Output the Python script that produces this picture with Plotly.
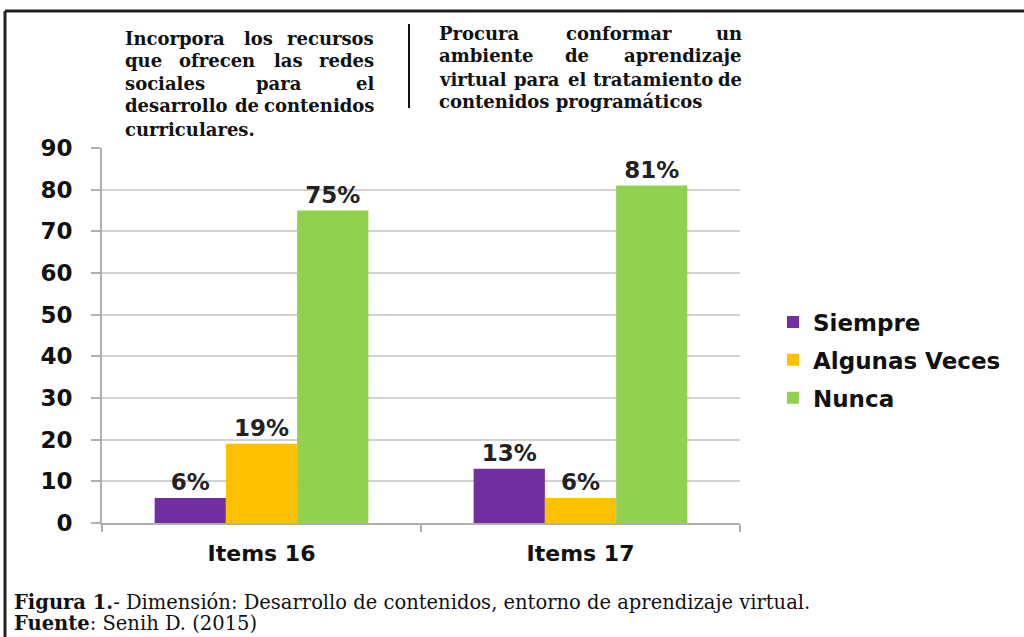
import plotly.graph_objects as go

categories = ["Items 16", "Items 17"]
series_names = ["Siempre", "Algunas Veces", "Nunca"]
siempre = [6, 13]
algunas = [19, 6]
nunca = [75, 81]
colors = ["#7030A0", "#FFC000", "#92D050"]
y_ticks = [0, 10, 20, 30, 40, 50, 60, 70, 80, 90]

W, H = 1024, 637
L, R, T, B = 102, 740, 148, 523  # plot area in pixels


def px(x):
    return (x - L) / (R - L)


def py(y):
    return (B - y) / (B - T)


fig = go.Figure()
for name, vals, col in zip(series_names, [siempre, algunas, nunca], colors):
    fig.add_trace(go.Bar(
        x=categories, y=vals, name=name, legendgroup=name,
        marker=dict(color=col, line=dict(width=0)),
        text=[f"{v}%" for v in vals], textposition="outside",
        textfont=dict(family="DejaVu Sans", size=23, color="#222222", weight="bold"),
        constraintext="none", cliponaxis=False,
    ))

fig.update_layout(
    width=W, height=H,
    margin=dict(l=L, r=W - R, t=T, b=H - B),
    paper_bgcolor="white", plot_bgcolor="white",
    barmode="group", bargap=0.33, bargroupgap=0,
    showlegend=True,
    legend=dict(x=px(773), y=py(360), xanchor="left", yanchor="middle",
                font=dict(family="DejaVu Sans", size=23, color="#111111", weight="bold"),
                tracegroupgap=5, bgcolor="rgba(0,0,0,0)"),
    font=dict(family="DejaVu Sans", color="#111111"),
)
fig.update_yaxes(range=[0, 90], tickvals=y_ticks, showgrid=True,
                 gridcolor="#d2d2d2", gridwidth=2,
                 showline=True, linecolor="#b0b0b0", linewidth=2,
                 ticks="outside", ticklen=9, tickcolor="#b0b0b0", tickwidth=2,
                 ticklabelstandoff=14,
                 tickfont=dict(family="DejaVu Sans", size=23, color="#111111", weight="bold"),
                 zeroline=False)
fig.update_xaxes(showline=True, linecolor="#b0b0b0", linewidth=2,
                 ticks="outside", tickson="boundaries", ticklen=7, tickcolor="#b0b0b0", tickwidth=2,
                 ticklabelstandoff=10,
                 tickfont=dict(family="DejaVu Sans", size=22, color="#111111", weight="bold"))

# frame (top and left edges)
fig.add_shape(type="line", xref="paper", yref="paper", x0=px(5), x1=px(1024), y0=py(11), y1=py(11),
              line=dict(color="#222222", width=3))
fig.add_shape(type="line", xref="paper", yref="paper", x0=px(5), x1=px(5), y0=py(11), y1=py(637),
              line=dict(color="#222222", width=3))
# vertical separator between the two item descriptions
fig.add_shape(type="line", xref="paper", yref="paper", x0=px(409), x1=px(409), y0=py(24), y1=py(108),
              line=dict(color="#111111", width=2))

SERIF_SIZE = 18
serif = dict(family="DejaVu Serif", size=SERIF_SIZE, color="#111111", weight="bold")

# approximate glyph advance widths (em, Times-Bold-like) used only to justify lines
ADV = {
    'a': .5, 'b': .556, 'c': .444, 'd': .556, 'e': .444, 'f': .333, 'g': .5, 'h': .556,
    'i': .278, 'j': .333, 'k': .556, 'l': .278, 'm': .833, 'n': .556, 'o': .5, 'p': .556,
    'q': .556, 'r': .444, 's': .389, 't': .333, 'u': .556, 'v': .5, 'w': .722, 'x': .5,
    'y': .5, 'z': .444, 'á': .5, '.': .25, 'I': .389, 'P': .611,
}
STRETCH = 1.32


def word_w(w):
    return sum(ADV.get(c, .5) for c in w) * SERIF_SIZE * STRETCH


left_lines = [
    ("Incorpora los recursos", 38, True),
    ("que ofrecen las redes", 60, True),
    ("sociales para el", 83, True),
    ("desarrollo de contenidos", 106, True),
    ("curriculares.", 129, False),
]
right_lines = [
    ("Procura conformar un", 33, True),
    ("ambiente de aprendizaje", 56, True),
    ("virtual para el tratamiento de", 79, True),
    ("contenidos programáticos", 102, False),
]


def add_block(lines, x0, x1):
    for text, y, just in lines:
        words = text.split(" ")
        if not just or len(words) == 1:
            fig.add_annotation(text=text, xref="paper", yref="paper", x=px(x0), y=py(y),
                               xanchor="left", yanchor="middle", showarrow=False, font=serif)
            continue
        widths = [word_w(w) for w in words]
        gap = (x1 - x0 - sum(widths)) / (len(words) - 1)
        xc = x0
        for i, (w, ww) in enumerate(zip(words, widths)):
            if i == 0:
                fig.add_annotation(text=w, xref="paper", yref="paper", x=px(x0), y=py(y),
                                   xanchor="left", yanchor="middle", showarrow=False, font=serif)
            elif i == len(words) - 1:
                fig.add_annotation(text=w, xref="paper", yref="paper", x=px(x1), y=py(y),
                                   xanchor="right", yanchor="middle", showarrow=False, font=serif)
            else:
                fig.add_annotation(text=w, xref="paper", yref="paper", x=px(xc + ww / 2), y=py(y),
                                   xanchor="center", yanchor="middle", showarrow=False, font=serif)
            xc += ww + gap


add_block(left_lines, 123, 376)
add_block(right_lines, 437, 744)

cap_font = dict(family="DejaVu Serif", size=19.5, color="#111111")
fig.add_annotation(text="<b>Figura 1.</b>- Dimensión: Desarrollo de contenidos, entorno de aprendizaje virtual.",
                   xref="paper", yref="paper", x=px(12), y=py(602), xanchor="left", yanchor="middle",
                   showarrow=False, font=cap_font)
fig.add_annotation(text="<b>Fuente</b>: Senih D. (2015)",
                   xref="paper", yref="paper", x=px(12), y=py(623), xanchor="left", yanchor="middle",
                   showarrow=False, font=cap_font)

fig.write_html("out.html")
